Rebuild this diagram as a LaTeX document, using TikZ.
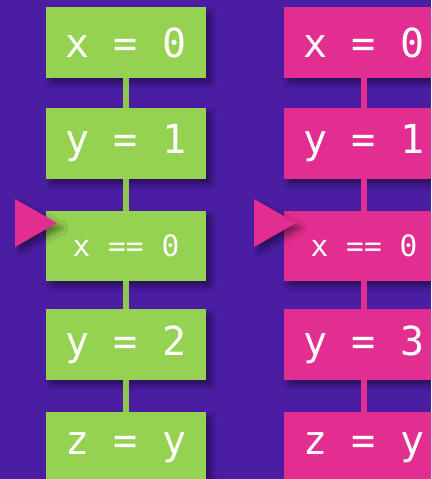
\documentclass[tikz,border=0pt]{standalone}
\usepackage{fontspec}
\newfontfamily\codefont{DejaVu Sans Mono}
\usetikzlibrary{shadows.blur}
\definecolor{bgpurple}{RGB}{74,29,163}
\definecolor{boxgreen}{RGB}{149,210,82}
\definecolor{linegreen}{RGB}{140,200,78}
\definecolor{boxpink}{RGB}{226,46,144}
\tikzset{
  boxshadow/.style={blur shadow={shadow xshift=5pt, shadow yshift=-5pt, shadow blur radius=6pt, shadow opacity=45}},
  codebox/.style={fill=#1, minimum width=160pt, minimum height=71pt, inner sep=0pt,
    text=white, font=\codefont\fontsize{40}{40}\selectfont, boxshadow},
  smallcode/.style={font=\codefont\fontsize{29.5}{30}\selectfont, minimum height=70pt},
  linkline/.style={line width=5.5pt, #1},
  marker/.style={fill=boxpink, boxshadow},
}
\begin{document}
\begin{tikzpicture}[x=1pt,y=-1pt]
\useasboundingbox (0,0) rectangle (431,479);
\clip (0,0) rectangle (431,479);
\fill[bgpurple] (0,0) rectangle (431,479);
% green column
\node[codebox=boxgreen] (g1) at (126,42.5) {x = 0};
\node[codebox=boxgreen] (g2) at (126,143.5) {y = 1};
\node[codebox=boxgreen, smallcode] (g3) at (126,246) {x == 0};
\node[codebox=boxgreen] (g4) at (126,344.5) {y = 2};
\node[codebox=boxgreen] (g5) at (126,447.5) {z = y};
% pink column
\node[codebox=boxpink] (p1) at (364,42.5) {x = 0};
\node[codebox=boxpink] (p2) at (364,143.5) {y = 1};
\node[codebox=boxpink, smallcode] (p3) at (364,246) {x == 0};
\node[codebox=boxpink] (p4) at (364,344.5) {y = 3};
\node[codebox=boxpink] (p5) at (364,447.5) {z = y};
% connectors
\foreach \a/\b in {g1/g2,g2/g3,g3/g4,g4/g5}
  \draw[linkline=linegreen] (\a.south) -- (\b.north);
\foreach \a/\b in {p1/p2,p2/p3,p3/p4,p4/p5}
  \draw[linkline=boxpink] (\a.south) -- (\b.north);
% markers
\fill[marker] (15,199) -- (15,247) -- (57,223) -- cycle;
\fill[marker] (254,199) -- (254,247) -- (296,223) -- cycle;
\end{tikzpicture}
\end{document}
